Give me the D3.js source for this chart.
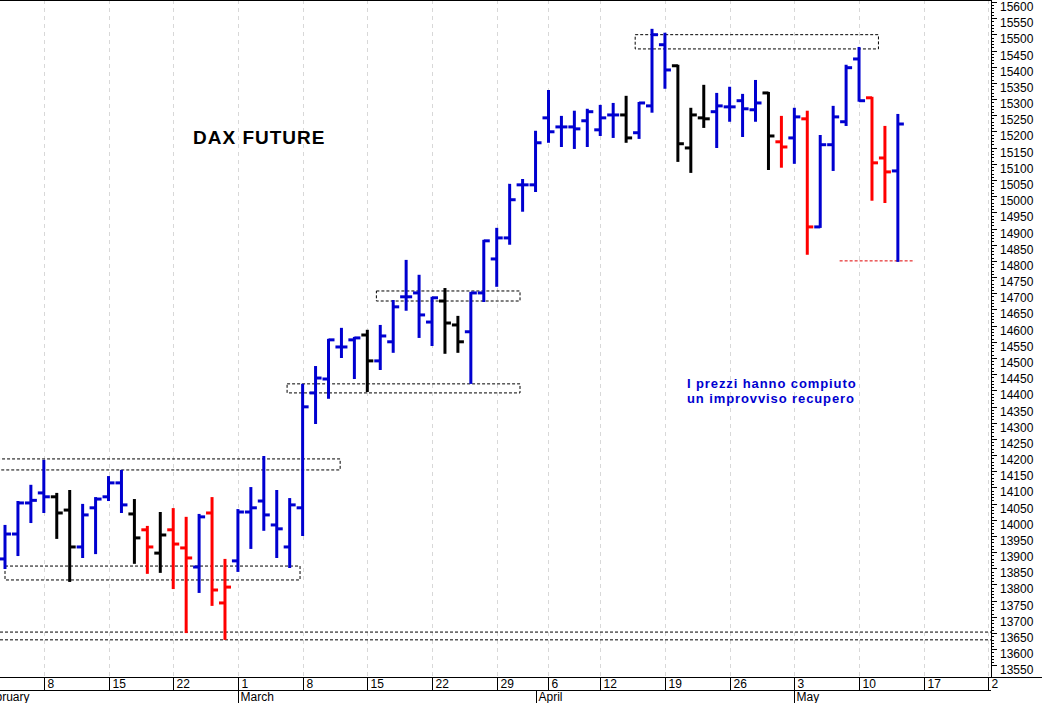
<!DOCTYPE html>
<html><head><meta charset="utf-8">
<script src="https://cdn.jsdelivr.net/npm/d3@7"></script>
<style>body{margin:0;background:#fff}svg{display:block}</style>
</head><body><svg id="c" width="1042" height="703"></svg>
<script>
// trading days (categories)
const dates = ["2021-02-03","2021-02-04","2021-02-05","2021-02-08","2021-02-09","2021-02-10","2021-02-11","2021-02-12","2021-02-15","2021-02-16","2021-02-17","2021-02-18","2021-02-19","2021-02-22","2021-02-23","2021-02-24","2021-02-25","2021-02-26",
"2021-03-01","2021-03-02","2021-03-03","2021-03-04","2021-03-05","2021-03-08","2021-03-09","2021-03-10","2021-03-11","2021-03-12","2021-03-15","2021-03-16","2021-03-17","2021-03-18","2021-03-19","2021-03-22","2021-03-23","2021-03-24","2021-03-25","2021-03-26","2021-03-29","2021-03-30","2021-03-31",
"2021-04-01","2021-04-06","2021-04-07","2021-04-08","2021-04-09","2021-04-12","2021-04-13","2021-04-14","2021-04-15","2021-04-16","2021-04-19","2021-04-20","2021-04-21","2021-04-22","2021-04-23","2021-04-26","2021-04-27","2021-04-28","2021-04-29","2021-04-30",
"2021-05-03","2021-05-04","2021-05-05","2021-05-06","2021-05-07","2021-05-10","2021-05-11","2021-05-12","2021-05-13"];
const openV  = [13879,13956,14052,14083,14071,14030,13916,14037,14071,14114,14018,13969,13897,13969,13913,13854,14021,13743,
13873,14024,14058,13984,13916,14037,14392,14435,14534,14556,14571,14491,14550,14689,14701,14611,14676,14602,14581,14701,14806,14871,15035,
15035,15242,15214,15214,15233,15205,15251,15251,15196,15279,15468,15403,15149,15242,15261,15276,15295,15267,15319,15168,
15180,15239,14905,15159,15230,15424,15304,15118,15078];
const highV  = [13981,14055,14105,14182,14080,14089,14046,14067,14132,14151,14061,13978,14021,14033,14006,14015,14067,13876,
14030,14098,14194,14089,14064,14417,14472,14556,14590,14562,14584,14599,14676,14800,14754,14686,14713,14627,14701,14862,14899,15035,15050,
15199,15325,15245,15261,15267,15279,15285,15307,15288,15514,15502,15403,15270,15341,15316,15335,15313,15356,15319,15245,
15270,15261,15186,15276,15403,15458,15304,15214,15251];
const lowV   = [13851,13891,13993,14024,13944,13811,13885,13897,14061,14024,13867,13836,13839,13789,13653,13777,13737,13632,
13842,13913,13969,13885,13854,13953,14299,14377,14503,14438,14398,14466,14519,14649,14565,14540,14516,14519,14423,14676,14723,14853,14955,
15016,15168,15155,15149,15155,15189,15183,15168,15180,15261,15335,15109,15075,15214,15152,15233,15186,15233,15084,15091,
15103,14822,14905,15081,15220,15295,14989,14982,14800];
const closeV = [13956,14052,14060,14071,14021,13916,14015,14064,14114,14046,13944,13916,13953,13925,13882,14009,13783,13792,
14024,14037,14015,13972,14046,14349,14438,14556,14534,14562,14491,14568,14658,14689,14633,14686,14608,14550,14701,14862,14871,14989,15035,
15165,15199,15214,15208,15261,15242,15251,15180,15288,15499,15390,15162,15251,15239,15279,15276,15270,15288,15186,15152,
15245,14905,15159,15245,15397,15295,15103,15075,15223];
const signal = "bbbbkkbbbbkrkrrbrr" + "bbbbbbbbbbkbbbbbkkbbbbb" + "b" + "bbbbbbkbbbkkkbbbbkr" + "brbbb" + "brrb";
const yTicks = d3.range(13550, 15601, 50);
const weekTicks = [["2021-02-08","8"],["2021-02-15","15"],["2021-02-22","22"],["2021-03-01","1"],["2021-03-08","8"],["2021-03-15","15"],["2021-03-22","22"],["2021-03-29","29"],["2021-04-06","6"],["2021-04-12","12"],["2021-04-19","19"],["2021-04-26","26"],["2021-05-03","3"],["2021-05-10","10"],["2021-05-17","17"],["2021-05-24","2"]];
const months = [["February",-2],["March","2021-03-01"],["April","2021-04-01"],["May","2021-05-03"]];
// annotation zones: [fromIndex, toIndex, low, high]
const zones = [[-1,25.9,14154,14188],[0,22.8,13814,13857],[21.8,39.8,14392,14420],[28.7,39.8,14676,14707],[48.7,67.5,15455,15499]];
const levelLines = [[13653,"#000"],[13629,"#000"]];
const supportLine = [64.5,70.3,14800];

const colorOf = {b:"#0000d0",k:"#000000",r:"#ff0000"};
const idx = d => {
  const i = dates.indexOf(d);
  if (i >= 0) return i;
  const extra = {"2021-05-17":71,"2021-05-24":76};
  return extra[d];
};
const svg = d3.select("#c");
const x = d3.scaleLinear().domain([0,76]).range([5, 5+12.94*76]);
const y = d3.scaleLinear().domain([13550,15600]).range([665.4, 2]);
const R = 991, B = 677;
const FONT = "Arial, Liberation Sans, sans-serif";

// grid
weekTicks.forEach(([d]) => {
  const xi = Math.round(x(idx(d))) + 0.5;
  svg.append("line").attr("x1",xi).attr("x2",xi).attr("y1",0).attr("y2",B)
    .attr("stroke","#d8d8d8").attr("stroke-dasharray","4,4");
});
// zones
zones.forEach(([a,b,lo,hi]) => {
  svg.append("rect").attr("x",x(a)).attr("y",y(hi)).attr("width",x(b)-x(a)).attr("height",y(lo)-y(hi))
    .attr("fill","none").attr("stroke","#000").attr("stroke-dasharray","3,2");
});
levelLines.forEach(([v,c]) => {
  svg.append("line").attr("x1",0).attr("x2",R).attr("y1",y(v)).attr("y2",y(v))
    .attr("stroke",c).attr("stroke-dasharray","3,2");
});
svg.append("line").attr("x1",x(supportLine[0])).attr("x2",x(supportLine[1]))
  .attr("y1",y(supportLine[2])).attr("y2",y(supportLine[2])).attr("stroke","#e00000").attr("stroke-dasharray","3,2");

// bars
const g = svg.append("g").attr("stroke-width",3);
dates.forEach((d,i) => {
  const c = colorOf[signal[i]], xi = x(i);
  g.append("line").attr("x1",xi).attr("x2",xi).attr("y1",y(highV[i])-1).attr("y2",y(lowV[i])+1).attr("stroke",c);
  g.append("line").attr("x1",xi-6).attr("x2",xi).attr("y1",y(openV[i])).attr("y2",y(openV[i])).attr("stroke",c);
  g.append("line").attr("x1",xi).attr("x2",xi+6).attr("y1",y(closeV[i])).attr("y2",y(closeV[i])).attr("stroke",c);
});

// frame
svg.append("line").attr("x1",0).attr("x2",R).attr("y1",0.5).attr("y2",0.5).attr("stroke","#000");
svg.append("line").attr("x1",R+0.5).attr("x2",R+0.5).attr("y1",0).attr("y2",B).attr("stroke","#000");
svg.append("line").attr("x1",0).attr("x2",1042).attr("y1",B+0.5).attr("y2",B+0.5).attr("stroke","#000");
svg.append("line").attr("x1",0).attr("x2",R).attr("y1",690.5).attr("y2",690.5).attr("stroke","#000");

// y axis
const ya = svg.append("g").attr("font-family",FONT).attr("font-size",12);
d3.range(13550,15601,10).forEach(v => {
  const major = v % 50 === 0;
  ya.append("line").attr("x1",R).attr("x2",R+(major?6:3)).attr("y1",Math.round(y(v))+0.5).attr("y2",Math.round(y(v))+0.5).attr("stroke","#000");
});
yTicks.forEach(v => {
  ya.append("text").attr("x",R+9).attr("y",y(v)+9).text(v).attr("fill","#000");
});

// x axis
const xa = svg.append("g").attr("font-family",FONT).attr("font-size",12);
weekTicks.forEach(([d,l]) => {
  const xi = Math.round(x(idx(d))) + 0.5;
  xa.append("line").attr("x1",xi).attr("x2",xi).attr("y1",B).attr("y2",690).attr("stroke","#000");
  xa.append("text").attr("x",xi+3).attr("y",688).text(l);
});
months.forEach(([m,d]) => {
  const xi = Math.round(typeof d === "number" ? x(d) : x(idx(d))) + 0.5;
  xa.append("line").attr("x1",xi).attr("x2",xi).attr("y1",690).attr("y2",703).attr("stroke","#000");
  xa.append("text").attr("x",xi+2).attr("y",701).text(m);
});

// texts
svg.append("text").attr("x",193).attr("y",144).attr("font-family",FONT)
  .attr("font-size",19).attr("font-weight","bold").attr("letter-spacing",1).text("DAX FUTURE");
const note = svg.append("text").attr("font-family",FONT).attr("font-size",13)
  .attr("font-weight","bold").attr("fill","#0000d0").attr("letter-spacing",0.9);
note.append("tspan").attr("x",687).attr("y",388).text("I prezzi hanno compiuto");
note.append("tspan").attr("x",687).attr("y",403).text("un improvviso recupero");
</script></body></html>
